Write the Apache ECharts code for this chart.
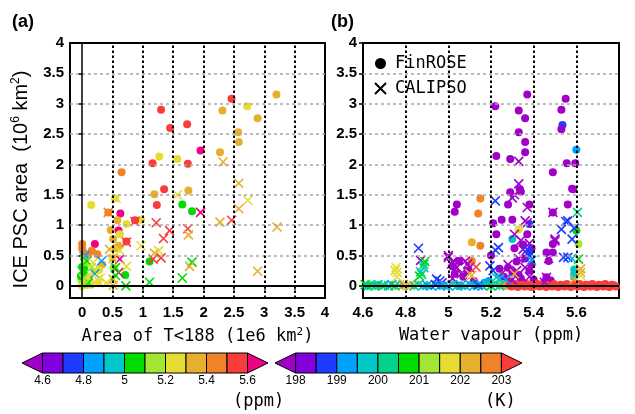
<!DOCTYPE html>
<html><head><meta charset="utf-8">
<script src="https://cdn.jsdelivr.net/npm/echarts@6/dist/echarts.min.js"></script>
<style>html,body{margin:0;padding:0;background:#fff}#c{width:635px;height:414px}</style>
</head><body><div id="c"></div>
<script>
// ---------- DATA ----------
// Panel (a): [area T<188 (1e6 km2), ICE PSC area (1e6 km2), water vapour (ppm)]
const aFinROSE = [
[0.65,1.87,5.45],[1.30,2.90,5.55],[1.45,2.60,5.55],[1.73,2.66,5.55],[1.95,2.23,5.65],
[1.16,2.02,5.55],[1.27,2.13,5.25],[1.57,2.09,5.25],[1.74,2.01,5.55],[2.46,3.08,5.55],
[2.31,2.89,5.35],[2.72,2.96,5.25],[2.89,2.76,5.35],[2.57,2.53,5.35],[2.58,2.37,5.35],
[2.27,2.20,5.35],[3.20,3.15,5.35],[0.54,1.44,5.25],[1.19,1.51,5.35],[1.35,1.59,5.55],
[1.75,1.57,5.35],[0.15,1.33,5.25],[1.23,1.33,5.55],[1.65,1.34,5.05],[1.81,1.23,5.05],
[0.63,1.19,5.65],[0.58,1.08,5.35],[0.73,1.02,5.25],[0.97,1.09,5.25],[0.87,1.08,5.55],
[0.43,1.21,5.45],[0.47,0.92,5.35],[0.60,0.91,5.65],[0.51,0.77,5.35],[0.62,0.85,5.25],
[0.73,0.73,5.55],[0.60,0.66,5.35],[0.21,0.69,5.65],[0.00,0.69,5.45],[0.02,0.55,5.45],
[0.16,0.58,5.45],[0.25,0.52,5.45],[1.11,0.40,5.05],[0.71,0.18,5.05],[0.33,0.35,5.35],
[0.28,0.26,5.25],[0.50,0.46,5.25],[0.55,0.62,5.35],[0.52,0.30,5.15],
[0.00,0.31,5.05],[0.02,0.20,5.05],[-0.01,0.10,5.15],[0.05,0.04,5.25],[0.10,0.15,5.25],
[0.05,0.36,5.15],[0.00,0.00,5.25],[0.08,0.02,5.15],[0.20,0.24,5.25],[0.12,0.09,5.25],
[0.03,0.45,5.15],[-0.02,0.16,5.05],[0.00,0.62,5.45],[0.10,0.52,5.45],[0.15,0.02,5.25],
[0.04,0.26,5.05],[0.26,0.05,5.25]
];
const aCALIPSO = [
[0.56,1.44,5.25],[1.57,1.50,5.25],[2.32,2.04,5.35],[2.58,1.69,5.35],[2.73,1.41,5.25],
[1.22,1.04,5.55],[1.44,0.91,5.55],[1.34,0.78,5.55],[1.74,0.94,5.55],[1.75,0.84,5.35],
[1.95,1.21,5.65],[2.27,1.05,5.35],[2.46,1.08,5.55],[2.58,1.27,5.35],[3.21,0.97,5.35],
[2.89,0.24,5.35],[0.97,0.66,5.25],[1.19,0.54,5.35],[1.26,0.58,5.25],[1.17,0.44,5.55],
[1.30,0.46,5.55],[1.65,0.13,5.05],[1.81,0.39,5.05],[1.77,0.32,5.35],[1.11,0.06,5.05],
[0.72,0.00,5.05],[0.62,0.44,5.65],[0.73,0.32,5.25],[0.51,0.11,5.35],[0.51,0.01,5.35],
[0.60,0.22,5.65],[0.51,0.45,5.35],[0.43,1.21,5.45],[0.87,1.06,5.55],[0.73,0.72,5.55],
[0.08,0.41,5.05],[0.32,0.41,4.85],[0.21,0.20,4.85],[0.30,0.13,5.25],[0.55,0.30,5.05],
[0.40,0.05,5.25],[0.10,0.05,5.05],[0.00,0.25,5.05],[0.15,0.30,5.15],[0.25,0.10,5.25],
[0.05,0.50,4.85],[0.55,0.17,5.05],[0.45,0.60,5.35],[0.62,0.58,5.25],[0.02,0.12,5.15],
[0.18,0.38,5.25]
];
// Panel (b): [water vapour (ppm), ICE PSC area (1e6 km2), temperature (K)]
const bFinROSE = [
[5.22,2.96,197.8],[5.225,2.14,197.8],[5.29,2.09,197.8],[5.33,2.89,197.8],[5.36,2.76,197.8],
[5.37,3.15,197.8],[5.33,2.53,197.8],[5.36,2.37,197.8],[5.36,2.20,197.8],[5.55,3.08,197.8],
[5.53,2.90,197.8],[5.535,2.65,198.75],[5.53,2.58,197.8],[5.555,2.02,197.8],[5.595,2.02,197.8],
[5.49,1.87,197.8],[5.60,2.24,199.25],[5.58,1.60,197.8],[5.15,1.44,202.75],[5.335,1.59,197.8],
[5.34,1.55,197.8],[5.29,1.54,197.8],[5.28,1.34,197.8],[5.03,1.22,197.8],[5.04,1.34,197.8],
[5.14,1.19,202.75],[5.11,0.72,202.25],[5.15,0.66,202.75],[5.11,0.41,202.75],[5.21,1.03,197.8],
[5.225,0.85,197.8],[5.25,1.09,197.8],[5.30,1.09,197.8],[5.20,0.50,197.8],[5.38,1.02,198.75],
[5.38,1.34,197.8],[5.33,0.93,201.75],[5.30,0.77,199.75],[5.37,0.85,197.8],[5.46,0.55,197.8],
[5.47,0.41,197.8],[5.49,0.55,197.8],[5.49,0.69,197.8],[5.49,1.21,197.8],[5.585,1.59,197.8],
[5.56,1.34,197.8],[5.60,0.91,200.75],[5.61,0.69,201.25],[5.59,0.27,199.75],[5.59,0.20,199.75],
[5.59,0.14,199.75],[5.05,0.41,197.8],[5.46,0.14,197.8],[5.45,0.06,197.8],[5.48,0.09,197.8],
[5.28,0.30,197.8],[5.30,0.22,197.8],[5.32,0.40,197.8],[5.34,0.12,197.8],[5.36,0.45,197.8],
[5.38,0.25,197.8],[5.39,0.35,197.8],[5.35,0.05,197.8],[5.33,0.18,197.8],[5.29,0.08,197.8],
[5.26,0.15,197.8],[5.24,0.28,197.8],[5.31,0.62,197.8],[5.35,0.68,197.8],[5.39,0.62,197.8],
[5.40,0.10,197.8],[5.03,0.20,197.8],[5.07,0.15,197.8],[5.09,0.25,197.8],[5.12,0.08,197.8],
[5.02,0.32,197.8],[5.38,0.55,198.75],[5.17,0.05,199.25],[5.19,0.08,199.25],
[4.62,0.00,199.75],[4.66,0.01,200.25],[4.80,0.00,202.75],[4.83,0.01,201.75],[4.90,0.00,199.75],
[4.97,0.01,199.25],[5.05,0.00,199.25],[5.13,0.02,199.25],[5.25,0.01,202.25],[5.27,0.00,202.75],
[5.26,0.03,202.25],[5.28,0.01,201.25]
];
// FinROSE days with no ice (warm), along the zero line
const bFinROSEZero = [
[5.285,0.02,203.2],[5.296,-0.01,203.2],[5.305,0.01,203.2],[5.317,0.03,203.2],[5.326,-0.02,203.2],
[5.338,0.01,203.2],[5.347,0.02,203.2],[5.358,-0.01,203.2],[5.366,0.03,203.2],[5.378,0.00,203.2],
[5.388,-0.02,203.2],[5.397,0.02,203.2],[5.409,0.00,203.2],[5.417,0.03,203.2],[5.428,-0.01,203.2],
[5.436,0.01,203.2],[5.447,0.03,203.2],[5.458,-0.02,203.2],[5.466,0.01,203.2],[5.477,0.02,203.2],
[5.486,-0.01,203.2],[5.495,0.03,203.2],[5.507,0.00,203.2],[5.515,-0.02,203.2],[5.526,0.02,203.2],
[5.537,0.01,203.2],[5.545,-0.01,203.2],[5.556,0.03,203.2],[5.565,0.00,203.2],[5.574,-0.02,203.2],
[5.586,0.02,203.2],[5.595,0.01,203.2],[5.606,-0.01,203.2],[5.615,0.03,203.2],[5.627,0.00,203.2],
[5.636,-0.02,203.2],[5.645,0.02,203.2],[5.657,0.01,203.2],[5.666,-0.01,203.2],[5.675,0.03,203.2],
[5.687,0.00,203.2],[5.696,-0.02,203.2],[5.705,0.02,203.2],[5.716,0.01,203.2],[5.726,-0.01,203.2],
[5.735,0.03,203.2],[5.746,0.00,203.2],[5.755,-0.02,203.2],[5.766,0.02,203.2],[5.775,0.01,203.2],
[5.785,-0.01,203.2]
];
const bCALIPSO = [
[5.33,2.05,197.8],[5.33,1.68,197.8],[5.30,1.45,197.8],[5.31,1.50,197.8],[5.37,1.29,197.8],
[5.36,1.07,197.8],[5.37,1.04,197.8],[5.31,0.85,197.8],[5.49,1.21,197.8],[5.50,0.77,197.8],
[5.50,0.74,197.8],[5.47,0.45,197.8],[5.00,0.50,197.8],[5.00,0.47,197.8],[5.015,0.36,197.8],
[5.02,0.40,197.8],[4.87,0.42,197.8],[5.08,0.41,197.8],[5.09,0.36,197.8],[5.04,0.30,197.8],
[5.46,0.14,197.8],[5.45,0.06,197.8],[5.35,0.60,197.8],[5.33,0.45,197.8],[5.28,0.35,197.8],
[5.32,0.25,197.8],[5.36,0.30,197.8],[5.25,0.20,197.8],[5.30,0.10,197.8],[5.38,0.15,197.8],
[5.06,0.20,197.8],[5.34,0.75,197.8],[5.38,0.70,197.8],[4.97,0.05,197.8],[5.02,0.12,197.8],
[5.10,0.30,197.8],
[5.22,1.40,198.75],[5.235,0.63,198.75],[5.22,0.59,198.75],[5.38,0.50,198.75],[5.195,0.33,198.75],
[5.56,1.07,198.75],[5.55,1.06,198.75],[5.59,0.95,198.75],[5.53,0.93,198.75],[5.58,0.77,198.75],
[5.54,0.47,198.75],[5.56,0.47,198.75],[4.86,0.62,198.75],[4.945,0.11,198.75],[5.37,0.60,198.75],
[4.96,0.08,198.75],[5.21,0.25,198.75],
[5.58,0.45,199.25],[5.39,0.42,199.25],[5.27,0.10,199.25],
[5.225,0.14,199.75],[4.87,0.23,199.75],[4.885,0.30,199.75],[5.24,0.12,199.75],
[5.605,1.21,200.25],[4.885,0.35,200.25],[4.875,0.19,200.25],
[4.89,0.40,200.75],[4.865,0.16,200.75],[5.61,0.44,200.75],
[4.75,0.25,201.75],[4.755,0.30,201.75],[4.76,0.22,201.75],[4.76,0.15,201.75],[5.62,0.17,201.75],
[5.10,0.20,202.25],[5.11,0.17,202.25],[5.62,0.28,202.25],[5.62,0.22,202.25],[5.59,0.11,202.25],
[5.31,0.20,202.25],[5.13,0.31,203.2],
[4.61,0.02,200.75],[4.625,0.00,199.75],[4.64,0.01,200.75],[4.655,0.00,200.25],[4.67,0.02,199.75],
[4.69,0.00,200.75],[4.70,0.01,199.75],[4.72,0.00,200.25],[4.735,0.02,199.25],[4.75,0.00,200.75],
[4.77,0.01,199.75],[4.79,0.02,202.75],[4.805,0.00,201.75],[4.82,0.01,202.25],[4.84,0.00,199.75],
[4.86,0.02,200.25],[4.88,0.00,199.75],[4.90,0.01,199.25],[4.92,0.00,199.75],[4.94,0.02,198.75],
[4.96,0.00,199.25],[4.98,0.01,199.75],[5.00,0.00,199.25],[5.02,0.02,199.75],[5.04,0.00,200.25],
[5.06,0.01,199.25],[5.08,0.00,199.75],[5.10,0.02,199.25],[5.12,0.00,199.75],[5.14,0.01,198.75],
[5.16,0.00,199.25],[5.18,0.02,199.75],[5.20,0.00,200.75],[5.22,0.01,199.75],[5.24,0.00,200.25]
];
// Colour scales
const wvLevels = [4.6,4.7,4.8,4.9,5.0,5.1,5.2,5.3,5.4,5.5,5.6];
const wvColors = ['#a000c8','#8200dc','#1e3cff','#00a0ff','#00c8c8','#00dc00','#a0e632','#e6dc32','#e6af2d','#f08228','#fa3c3c','#f00082'];
const tLevels = [198,198.5,199,199.5,200,200.5,201,201.5,202,202.5,203];
const tColors = ['#a000c8','#8200dc','#1e3cff','#00a0ff','#00c8c8','#00d28c','#00dc00','#a0e632','#e6dc32','#e6af2d','#f08228','#fa3c3c'];
const wvBarEdges = [4.5,4.6,4.7,4.8,4.9,5.0,5.1,5.2,5.3,5.4,5.5,5.6,5.7];
const tBarEdges = [197.5,198,198.5,199,199.5,200,200.5,201,201.5,202,202.5,203,203.5];
const yTicks = [0,0.5,1,1.5,2,2.5,3,3.5,4];
const aXTicks = [0,0.5,1,1.5,2,2.5,3,3.5,4];
const bXTicks = [4.6,4.8,5.0,5.2,5.4,5.6];

// ---------- BUILD ----------
const MONO = '"DejaVu Sans Mono", monospace';
const SANS = '"Liberation Sans", Arial, sans-serif';
const CROSS = 'path://M0,0L10,10M10,0L0,10';
function pick(v, lev, pal){ let i=0; while(i<lev.length && v>=lev[i]) i++; return pal[i]; }
function circ(arr, lev, pal){ return arr.map(d=>({value:[d[0],d[1]], itemStyle:{color:pick(d[2],lev,pal)}})); }
function cross(arr, lev, pal){ return arr.map(d=>({value:[d[0],d[1]], itemStyle:{color:'none', borderColor:pick(d[2],lev,pal)}})); }
function barData(edges){ const out=[]; for(let i=0;i<edges.length-1;i++){ out.push([edges[i],edges[i+1], i===0?0:(i===edges.length-2?2:1), i]); } return out; }
function barRender(pal){
  return function(params, api){
    const lo=api.value(0), hi=api.value(1), kind=api.value(2), ci=api.value(3);
    const a=api.coord([lo,0]), b=api.coord([hi,1]);
    const ym=(a[1]+b[1])/2; let pts;
    if(kind===0) pts=[[a[0],ym],[b[0],b[1]],[b[0],a[1]]];
    else if(kind===2) pts=[[a[0],b[1]],[b[0],ym],[a[0],a[1]]];
    else pts=[[a[0],b[1]],[b[0],b[1]],[b[0],a[1]],[a[0],a[1]]];
    return {type:'polygon', shape:{points:pts}, style:{fill:pal[ci], stroke:'#000', lineWidth:1}};
  };
}
const dotV = {type:[2.5,2.5], color:'#000', width:2};
const dashH = {type:[3,3], color:'#a8a8a8', width:1.5};
const tickLab = {fontFamily:SANS, fontWeight:'bold', fontSize:15, color:'#000'};
const supRich = {sup:{fontSize:11, fontFamily:MONO, padding:[0,0,9,0], verticalAlign:'bottom'}};
const supRichY = {sup:{fontSize:12, fontFamily:SANS, padding:[0,0,10,0], verticalAlign:'bottom'}};

function mainX(idx, min, max, ticks, name){
  return {gridIndex:idx, type:'value', min:min, max:max,
    axisLine:{show:false}, splitLine:{show:false},
    axisTick:{show:true, inside:false, length:4, customValues:ticks, lineStyle:{color:'#000', width:1.5}},
    axisLabel:{customValues:ticks, margin:7, ...tickLab},
    name:name, nameLocation:'middle', nameGap:29,
    nameTextStyle:{fontFamily:MONO, fontSize:17, color:'#000', rich:supRich}};
}
function mainY(idx, name){
  return {gridIndex:idx, type:'value', min:-0.2, max:4,
    axisLine:{show:false}, splitLine:{show:false},
    axisTick:{show:true, length:4, customValues:yTicks, lineStyle:{color:'#000', width:1.5}},
    axisLabel:{customValues:yTicks, margin:6, ...tickLab},
    name:name||'', nameLocation:'middle', nameRotate:90, nameGap:38,
    nameTextStyle:{fontFamily:SANS, fontSize:20, color:'#000', rich:supRichY, padding:[0,18,0,0]}};
}
function barX(idx, min, max, interval, fmt){
  return {gridIndex:idx, type:'value', min:min, max:max, interval:interval,
    axisLine:{show:false}, axisTick:{show:false}, splitLine:{show:false},
    axisLabel:{margin:2, fontFamily:SANS, fontSize:12, color:'#000', formatter:fmt}};
}
function barY(idx){ return {gridIndex:idx, type:'value', min:0, max:1, show:false}; }
function lineSeries(xi, z, data){
  return {type:'scatter', xAxisIndex:xi, yAxisIndex:xi, data:[], silent:true, z:z,
    markLine:{silent:true, symbol:'none', label:{show:false}, animation:false, data:data}};
}

const option = {
  animation:false,
  backgroundColor:'#fff',
  title:[
    {text:'(a)', left:12, top:13, padding:0, textStyle:{fontFamily:SANS, fontWeight:'bold', fontSize:18, color:'#000'}},
    {text:'(b)', left:331, top:13, padding:0, textStyle:{fontFamily:SANS, fontWeight:'bold', fontSize:18, color:'#000'}}
  ],
  legend:{
    data:[{name:'FinROSE', icon:'circle'},{name:'CALIPSO', icon:CROSS}],
    orient:'vertical', left:365, top:48, itemWidth:11, itemHeight:11, itemGap:8,
    padding:[7,3,5,7.5], backgroundColor:'#fff', selectedMode:false,
    textStyle:{fontFamily:MONO, fontSize:17, color:'#000', padding:[0,0,0,4]}
  },
  grid:[
    {left:70, top:43, width:255, height:255, show:true, borderColor:'#000', borderWidth:2, backgroundColor:'transparent'},
    {left:363, top:43, width:256, height:255, show:true, borderColor:'#000', borderWidth:2, backgroundColor:'transparent'},
    {left:22, top:353, width:246, height:20},
    {left:275, top:353, width:247, height:20}
  ],
  xAxis:[
    mainX(0, -0.2, 4, aXTicks, 'Area of T<188 (1e6 km{sup|2})'),
    mainX(1, 4.6, 5.8, bXTicks, 'Water vapour (ppm)'),
    barX(2, 4.5, 5.7, 0.1, v=>{const r=Math.round(v*10); return (r%2===0 && r>=46 && r<=56)? String(r/10):'';}),
    barX(3, 197.5, 203.5, 0.5, v=>{const r=Math.round(v*2); return (r%2===0 && r>=396 && r<=406)? String(r/2):'';})
  ],
  yAxis:[ mainY(0, 'ICE PSC area  (10{sup|6} km{sup|2})'), mainY(1, ''), barY(2), barY(3) ],
  graphic:[
    {type:'text', left:233, top:393, style:{text:'(ppm)', font:'17px "DejaVu Sans Mono", monospace', fill:'#000'}},
    {type:'text', left:485, top:393, style:{text:'(K)', font:'17px "DejaVu Sans Mono", monospace', fill:'#000'}}
  ],
  series:[
    // background dashed horizontal grid + zero lines (panel a)
    lineSeries(0, 1, [0.5,1,1.5,2,2.5,3,3.5].map(v=>({yAxis:v, lineStyle:dashH})).concat([
         {xAxis:0, lineStyle:{type:'solid', color:'#000', width:1.5}},
         {yAxis:0, lineStyle:{type:'solid', color:'#000', width:2}}])),
    lineSeries(1, 1, [0.5,1,1.5,2,2.5,3,3.5].map(v=>({yAxis:v, lineStyle:dashH}))),
    {name:'FinROSE', type:'scatter', xAxisIndex:0, yAxisIndex:0, symbol:'circle', symbolSize:8, z:2,
     itemStyle:{color:'#000', opacity:1}, data:circ(aFinROSE, wvLevels, wvColors)},
    {name:'CALIPSO', type:'scatter', xAxisIndex:0, yAxisIndex:0, symbol:CROSS, symbolSize:9, z:3,
     itemStyle:{color:'none', borderColor:'#000', borderWidth:1.6, opacity:1}, data:cross(aCALIPSO, wvLevels, wvColors)},
    {name:'FinROSE', type:'scatter', xAxisIndex:1, yAxisIndex:1, symbol:'circle', symbolSize:8, z:2,
     itemStyle:{color:'#000', opacity:1}, data:circ(bFinROSE.concat(bFinROSEZero), tLevels, tColors)},
    {name:'CALIPSO', type:'scatter', xAxisIndex:1, yAxisIndex:1, symbol:CROSS, symbolSize:9, z:3,
     itemStyle:{color:'none', borderColor:'#000', borderWidth:1.6, opacity:1}, data:cross(bCALIPSO, tLevels, tColors)},
    // dotted vertical grid drawn on top (also over the legend box)
    lineSeries(0, 6, [0.5,1,1.5,2,2.5,3,3.5].map(v=>({xAxis:v, lineStyle:dotV}))),
    lineSeries(1, 6, [4.8,5.0,5.2,5.4,5.6].map(v=>({xAxis:v, lineStyle:dotV})).concat([
         {yAxis:0, lineStyle:{type:'solid', color:'#000', width:2}}])),
    {type:'custom', xAxisIndex:2, yAxisIndex:2, data:barData(wvBarEdges), renderItem:barRender(wvColors), silent:true},
    {type:'custom', xAxisIndex:3, yAxisIndex:3, data:barData(tBarEdges), renderItem:barRender(tColors), silent:true}
  ]
};
const chart = echarts.init(document.getElementById('c'), null, {renderer:'canvas'});
chart.setOption(option);
</script></body></html>
